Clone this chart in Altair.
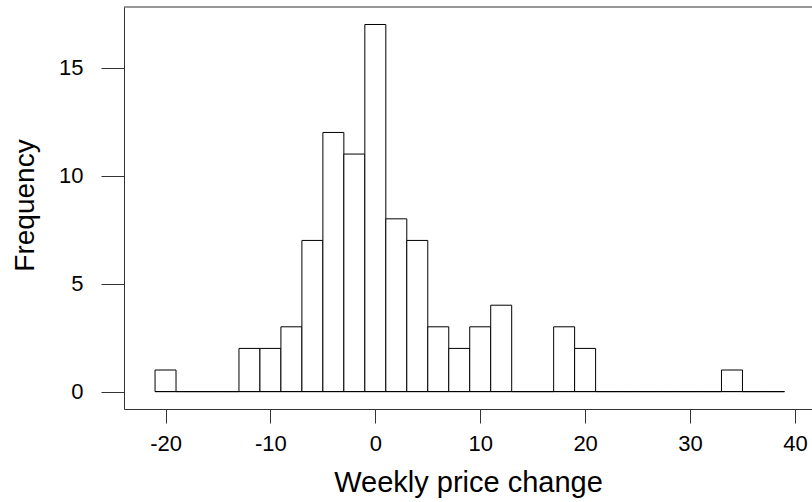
import altair as alt
import pandas as pd

# Histogram of weekly price changes (bins of width 2)
bin_start = [-21, -19, -17, -15, -13, -11, -9, -7, -5, -3, -1, 1, 3, 5, 7,
             9, 11, 13, 15, 17, 19, 21, 23, 25, 27, 29, 31, 33, 35, 37]
bin_end = [-19, -17, -15, -13, -11, -9, -7, -5, -3, -1, 1, 3, 5, 7, 9,
           11, 13, 15, 17, 19, 21, 23, 25, 27, 29, 31, 33, 35, 37, 39]
counts = [1, 0, 0, 0, 2, 2, 3, 7, 12, 11, 17, 8, 7, 3, 2,
          3, 4, 0, 0, 3, 2, 0, 0, 0, 0, 0, 0, 1, 0, 0]

x_ticks = [-20, -10, 0, 10, 20, 30, 40]
y_ticks = [0, 5, 10, 15]

df = pd.DataFrame({"start": bin_start, "end": bin_end, "count": counts})

W, H = 688, 402
FONT = "Liberation Sans"
FRAME = "#333333"

x_scale = alt.Scale(domain=[-23.96, 41.63], nice=False, zero=False)
y_scale = alt.Scale(domain=[-0.806, 17.81], nice=False, zero=False)

x_axis = alt.Axis(
    title="Weekly price change", values=x_ticks, grid=False,
    labelExpr="'' + datum.value",
    tickSize=14, tickColor=FRAME, domainColor=FRAME, labelPadding=10,
    labelFontSize=22, labelColor="black", labelFont=FONT,
    titleFontSize=29, titleFont=FONT, titleFontWeight="normal",
    titleColor="black", titleBaseline="alphabetic", titleY=82,
)
y_axis = alt.Axis(
    title="Frequency", values=y_ticks, grid=False,
    tickSize=23, tickColor=FRAME, domainColor=FRAME, labelPadding=18,
    labelFontSize=22, labelColor="black", labelFont=FONT,
    titleFontSize=28, titleFont=FONT, titleFontWeight="normal",
    titleColor="black", titleAngle=270, titleBaseline="alphabetic",
    titleX=-91, titleY=198, titleAlign="center",
)

bars = alt.Chart(df).mark_rect(
    fill="white", stroke="black", strokeWidth=1
).encode(
    x=alt.X("start:Q", scale=x_scale, axis=x_axis),
    x2="end:Q",
    y=alt.Y("count:Q", scale=y_scale, axis=y_axis),
    y2=alt.datum(0),
)

baseline = alt.Chart(df).mark_rule(color="black", strokeWidth=1).encode(
    x=alt.X("min(start):Q", scale=x_scale),
    x2="max(end):Q",
    y=alt.datum(0),
)

top_edge = alt.Chart(alt.Data(values=[{}])).mark_rule(
    color=FRAME, strokeWidth=1
).encode(x=alt.value(0), x2=alt.value(W), y=alt.value(0))

chart = alt.layer(bars, baseline, top_edge).properties(
    width=W, height=H,
    autosize=alt.AutoSizeParams(type="none"),
    padding={"left": 124, "top": 7, "right": 0, "bottom": 93},
    background="white",
).configure_view(stroke=None)

chart.save("out.html", embed_options={"renderer": "svg", "actions": False})
